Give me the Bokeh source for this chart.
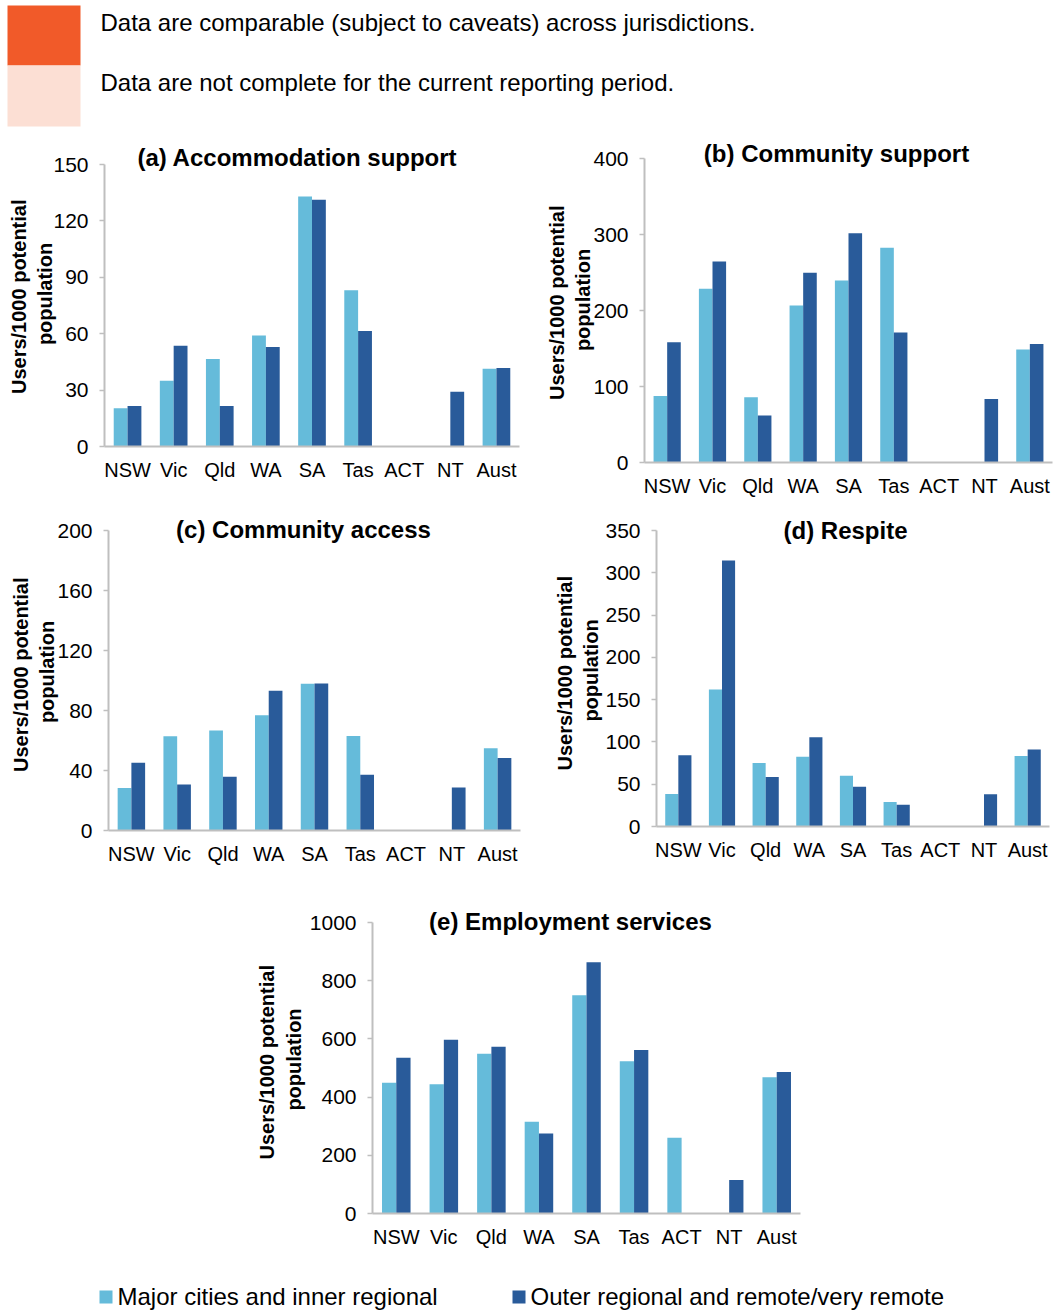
import numpy as np
from bokeh.plotting import figure
from bokeh.layouts import column, row
from bokeh.models import FactorRange, Range1d, FixedTicker, Label, ColumnDataSource
from bokeh.transform import dodge
from bokeh.core.properties import value
from bokeh.embed import file_html
from bokeh.resources import INLINE

NA = float("nan")

categories = ["NSW", "Vic", "Qld", "WA", "SA", "Tas", "ACT", "NT", "Aust"]
series_names = ["Major cities and inner regional", "Outer regional and remote/very remote"]

a_major = [20.4, 35.0, 46.5, 59.1, 133.0, 83.1, NA, NA, 41.4]
a_outer = [21.5, 53.6, 21.5, 52.9, 131.2, 61.4, NA, 29.1, 41.7]
a_ticks = [0, 30, 60, 90, 120, 150]

b_major = [87.5, 228.6, 85.7, 206.6, 239.6, 282.6, NA, NA, 148.6]
b_outer = [158.2, 264.6, 62.0, 249.7, 301.5, 171.0, NA, 83.5, 156.0]
b_ticks = [0, 100, 200, 300, 400]

c_major = [28.3, 62.8, 66.6, 76.8, 97.8, 63.0, NA, NA, 54.8]
c_outer = [45.2, 30.7, 35.9, 93.1, 98.0, 37.2, NA, 28.7, 48.3]
c_ticks = [0, 40, 80, 120, 160, 200]

d_major = [38.4, 162.1, 75.1, 82.6, 60.1, 28.9, NA, NA, 83.4]
d_outer = [84.2, 314.4, 58.5, 105.6, 47.1, 25.7, NA, 38.0, 90.9]
d_ticks = [0, 50, 100, 150, 200, 250, 300, 350]

e_major = [449.5, 443.8, 549.3, 315.4, 750.0, 523.0, 260.3, NA, 467.9]
e_outer = [535.6, 597.5, 573.4, 275.2, 863.5, 562.0, NA, 114.7, 486.2]
e_ticks = [0, 200, 400, 600, 800, 1000]

titles = ["(a) Accommodation support", "(b) Community support", "(c) Community access",
          "(d) Respite", "(e) Employment services"]
y_label = "Users/1000  potential\npopulation"
notes = ["Data are comparable (subject to caveats) across jurisdictions.",
         "Data are not complete for the current reporting period."]

LIGHT = "#65BBDA"
DARK = "#295B9A"
GREY = "#BFBFBF"
ORANGE = "#F15A29"
PEACH = "#FCDFD4"
FONT = "Liberation Sans"


def panel(title, major, outer, ticks, fig_left, fig_top, width, height,
          frame_left, frame_right, axis_top, frame_bottom, title_cx, title_cy,
          label_standoff):
    ymax = ticks[-1]
    frame_top = title_cy - 16
    y_end = ymax * (frame_bottom - frame_top) / (frame_bottom - axis_top)
    left = frame_left - fig_left
    right = (fig_left + width) - frame_right
    top = frame_top - fig_top
    bottom = (fig_top + height) - frame_bottom
    p = figure(x_range=FactorRange(*categories), y_range=Range1d(0, y_end),
               width=width, height=height, output_backend="svg", toolbar_location=None,
               min_border_left=left, min_border_right=right,
               min_border_top=top, min_border_bottom=bottom)
    src = ColumnDataSource(dict(cat=categories,
                                major=np.array(major, dtype=float),
                                outer=np.array(outer, dtype=float)))
    p.vbar(x=dodge("cat", -0.15, range=p.x_range), top="major", width=0.3,
           source=src, fill_color=LIGHT, line_color=None)
    p.vbar(x=dodge("cat", 0.15, range=p.x_range), top="outer", width=0.3,
           source=src, fill_color=DARK, line_color=None)
    p.outline_line_color = None
    p.xgrid.visible = False
    p.ygrid.visible = False
    p.yaxis.ticker = FixedTicker(ticks=ticks)
    p.yaxis.bounds = (0, ymax)
    for ax in (p.xaxis[0], p.yaxis[0]):
        ax.axis_line_color = GREY
        ax.axis_line_width = 2
        ax.major_label_text_font = FONT
        ax.major_label_text_color = "#000000"
        ax.minor_tick_line_color = None
    p.xaxis.major_label_text_font_size = "20px"
    p.xaxis.major_tick_line_color = None
    p.xaxis.major_label_standoff = 6
    p.yaxis.major_label_text_font_size = "21px"
    p.yaxis.major_tick_line_color = GREY
    p.yaxis.major_tick_line_width = 1.5
    p.yaxis.major_tick_out = 5
    p.yaxis.major_tick_in = 0
    p.yaxis.major_label_standoff = 11
    p.yaxis.axis_label = y_label
    p.yaxis.axis_label_text_font = FONT
    p.yaxis.axis_label_text_font_style = "bold"
    p.yaxis.axis_label_text_font_size = "20px"
    p.yaxis.axis_label_text_color = "#000000"
    p.yaxis.axis_label_standoff = label_standoff
    p.add_layout(Label(x=title_cx - frame_left, y=frame_bottom - title_cy,
                       x_units="screen", y_units="screen", text=title,
                       text_align="center", text_baseline="middle",
                       text_font=FONT, text_font_style="bold",
                       text_font_size="24px", text_color="#000000"))
    return p


fa = panel(titles[0], a_major, a_outer, a_ticks, 0, 130, 530, 376,
           104, 519, 164, 446, 297, 157, -6)
fb = panel(titles[1], b_major, b_outer, b_ticks, 530, 130, 529, 376,
           644, 1052, 158, 462, 836, 153, -4)
fc = panel(titles[2], c_major, c_outer, c_ticks, 0, 506, 530, 364,
           108, 520, 530, 830, 303, 529, -4)
fd = panel(titles[3], d_major, d_outer, d_ticks, 530, 506, 529, 364,
           656, 1049, 530, 826, 845, 530, 0)
fe = panel(titles[4], e_major, e_outer, e_ticks, 0, 870, 1059, 400,
           372, 800, 922, 1213, 570, 921, 2)

# header with the two comparability notes
h = figure(width=1059, height=130, x_range=Range1d(0, 1059), y_range=Range1d(130, 0),
           output_backend="svg", toolbar_location=None,
           x_axis_location=None, y_axis_location=None, min_border=0)
h.outline_line_color = None
h.grid.visible = False
h.quad(left=[7, 7], right=[80, 80], top=[5, 65], bottom=[65, 126],
       fill_color=[ORANGE, PEACH], line_color=None)
h.text(x=[100, 100], y=[22, 82], text=notes, text_font=value(FONT),
       text_font_size="24px", text_baseline="middle", text_align="left",
       text_color="#000000")

# bottom legend
lg = figure(width=1059, height=42, x_range=Range1d(0, 1059), y_range=Range1d(1312, 1270),
            output_backend="svg", toolbar_location=None,
            x_axis_location=None, y_axis_location=None, min_border=0)
lg.outline_line_color = None
lg.grid.visible = False
lg.quad(left=[99, 512], right=[112, 525], top=[1290, 1290], bottom=[1303, 1303],
        fill_color=[LIGHT, DARK], line_color=None)
lg.text(x=[117, 530], y=[1296, 1296], text=series_names, text_font=value(FONT),
        text_font_size="24px", text_baseline="middle", text_align="left",
        text_color="#000000")

layout = column(row(h), row(column(fa), column(fb)), row(column(fc), column(fd)),
                row(fe), row(lg))
open("out.html", "w").write(file_html(layout, INLINE))
